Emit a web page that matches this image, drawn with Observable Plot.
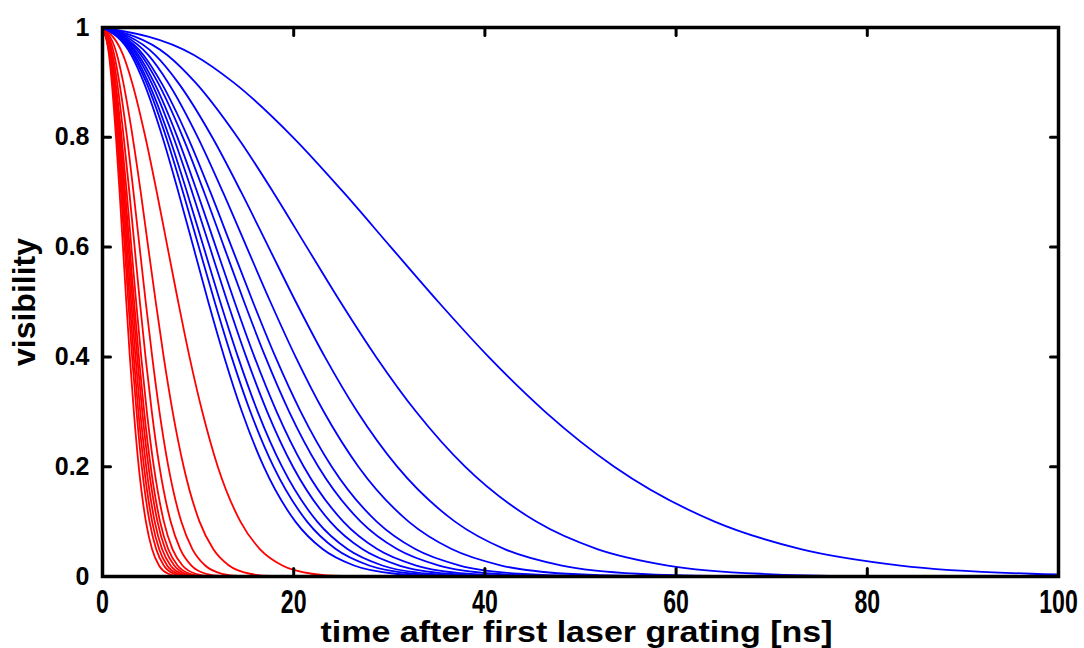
<!DOCTYPE html>
<html><head><meta charset="utf-8">
<script src="https://cdn.jsdelivr.net/npm/d3@7"></script>
<script src="https://cdn.jsdelivr.net/npm/@observablehq/plot@0.6"></script>
<style>body{margin:0;background:#fff} svg{display:block}</style>
</head><body><div id="chart"></div>
<script>
const levels = [1, 0.95, 0.9, 0.8, 0.7, 0.6, 0.5, 0.4, 0.3, 0.2, 0.1, 0.05, 0.02, 0.005, 0.001, 0];

// red curves: time [ns] at each visibility level
const redTimes = [
  [0, 0.68, 0.97, 1.41, 1.79, 2.14, 2.49, 2.86, 3.28, 3.79, 4.54, 5.18, 5.91, 6.88, 7.86, 120],
  [0, 0.73, 1.05, 1.53, 1.93, 2.32, 2.70, 3.10, 3.56, 4.11, 4.92, 5.61, 6.41, 7.46, 8.51, 120],
  [0, 0.77, 1.11, 1.62, 2.04, 2.44, 2.85, 3.27, 3.75, 4.34, 5.19, 5.92, 6.76, 7.87, 8.99, 120],
  [0, 0.82, 1.17, 1.70, 2.15, 2.57, 3.00, 3.45, 3.95, 4.57, 5.46, 6.23, 7.12, 8.29, 9.46, 120],
  [0, 0.86, 1.23, 1.79, 2.26, 2.71, 3.16, 3.63, 4.16, 4.81, 5.75, 6.56, 7.50, 8.72, 9.96, 120],
  [0, 0.90, 1.29, 1.88, 2.37, 2.84, 3.31, 3.80, 4.36, 5.04, 6.02, 6.87, 7.85, 9.14, 10.43, 120],
  [0, 0.96, 1.37, 2.00, 2.53, 3.02, 3.52, 4.05, 4.64, 5.37, 6.42, 7.32, 8.37, 9.74, 11.12, 120],
  [0, 1.06, 1.53, 2.22, 2.81, 3.36, 3.91, 4.50, 5.16, 5.96, 7.13, 8.13, 9.30, 10.82, 12.35, 120],
  [0, 1.23, 1.76, 2.57, 3.24, 3.88, 4.52, 5.20, 5.96, 6.89, 8.24, 9.40, 10.74, 12.50, 14.27, 120],
  [0, 1.52, 2.17, 3.16, 4.00, 4.78, 5.57, 6.40, 7.34, 8.49, 10.15, 11.58, 13.23, 15.40, 17.58, 120],
  [0, 2.15, 3.09, 4.49, 5.68, 6.80, 7.92, 9.10, 10.44, 12.06, 14.43, 16.46, 18.81, 21.89, 24.99, 120]
];

// blue curves: time [ns] at each visibility level
const blueTimes = [
  [0, 3.01, 4.32, 6.28, 7.94, 9.51, 11.07, 12.73, 14.59, 16.87, 20.18, 23.02, 26.31, 30.61, 34.95, 120],
  [0, 3.19, 4.58, 6.66, 8.42, 10.08, 11.74, 13.50, 15.47, 17.89, 21.40, 24.40, 27.89, 32.46, 37.05, 120],
  [0, 3.35, 4.80, 6.99, 8.84, 10.58, 12.32, 14.17, 16.24, 18.78, 22.46, 25.62, 29.27, 34.07, 38.89, 120],
  [0, 3.56, 5.10, 7.42, 9.38, 11.22, 13.07, 15.03, 17.23, 19.92, 23.82, 27.17, 31.05, 36.14, 41.26, 120],
  [0, 3.76, 5.39, 7.84, 9.91, 11.86, 13.82, 15.89, 18.22, 21.06, 25.19, 28.73, 32.83, 38.21, 43.62, 120],
  [0, 4.03, 5.78, 8.41, 10.63, 12.72, 14.82, 17.04, 19.53, 22.58, 27.01, 30.81, 35.21, 40.97, 46.78, 120],
  [0, 4.28, 6.13, 8.93, 11.29, 13.51, 15.74, 18.09, 20.74, 23.98, 28.68, 32.71, 37.38, 43.50, 49.67, 120],
  [0, 4.78, 6.85, 9.97, 12.60, 15.08, 17.57, 20.20, 23.15, 26.77, 32.02, 36.52, 41.73, 48.57, 55.45, 120],
  [0, 5.50, 7.89, 11.48, 14.51, 17.37, 20.23, 23.26, 26.66, 30.83, 36.87, 42.06, 48.06, 55.93, 63.86, 120],
  [0, 6.77, 9.71, 14.12, 17.86, 21.37, 24.89, 28.62, 32.81, 37.93, 45.37, 51.75, 59.14, 68.82, 78.58, 120],
  [0, 9.56, 13.70, 19.93, 25.20, 30.16, 35.14, 40.39, 46.31, 53.53, 64.03, 73.04, 83.47, 97.14, 110.9, 130]
];

const xTicks = [0, 20, 40, 60, 80, 100];
const yTicks = [0, 0.2, 0.4, 0.6, 0.8, 1];
const xLabel = "time after first laser grating [ns]";
const yLabel = "visibility";

const toRows = (times, prefix) => times.flatMap((ts, i) =>
  ts.map((t, j) => ({id: prefix + i, t, v: levels[j]})));
const redRows = toRows(redTimes, "r");
const blueRows = toRows(blueTimes, "b");

const tickShape = {draw(ctx, l) { ctx.moveTo(0, 0); ctx.lineTo(0, -l); }};
const tickOpts = {length: 8, anchor: "start", shape: tickShape, stroke: "black", strokeWidth: 3};
const sans = "'Liberation Sans', Arial, Helvetica, sans-serif";

const chart = Plot.plot({
  width: 1084,
  height: 648,
  marginLeft: 102,
  marginRight: 26,
  marginTop: 27,
  marginBottom: 72,
  style: {background: "#fff", fontFamily: sans},
  x: {domain: [0, 100], axis: null},
  y: {domain: [0, 1], axis: null},
  marks: [
    Plot.line(redRows, {x: "t", y: "v", z: "id", stroke: "#ff0000", strokeWidth: 1.8, curve: "monotone-x", clip: true}),
    Plot.line(blueRows, {x: "t", y: "v", z: "id", stroke: "#0000ff", strokeWidth: 1.8, curve: "monotone-x", clip: true}),
    Plot.frame({stroke: "black", strokeWidth: 3.5}),
    Plot.vector(xTicks, {x: d => d, frameAnchor: "bottom", rotate: 0, ...tickOpts}),
    Plot.vector(xTicks, {x: d => d, frameAnchor: "top", rotate: 180, ...tickOpts}),
    Plot.vector(yTicks, {y: d => d, frameAnchor: "left", rotate: 90, ...tickOpts}),
    Plot.vector(yTicks, {y: d => d, frameAnchor: "right", rotate: -90, ...tickOpts}),
    Plot.text(yTicks, {y: d => d, text: d => String(d), frameAnchor: "left", dx: -13, textAnchor: "end",
      lineAnchor: "middle", fontSize: 25, fontWeight: "bold", fontFamily: sans, fill: "black"}),
    Plot.text(xTicks, {x: d => d, text: d => String(d), frameAnchor: "bottom", dy: 26, textAnchor: "middle",
      lineAnchor: "middle", fontSize: 33, fontWeight: "bold", fontFamily: sans, fill: "black"}),
    Plot.text([xLabel], {frameAnchor: "bottom", dx: -4, dy: 56, textAnchor: "middle", lineAnchor: "middle",
      fontSize: 30, fontWeight: "bold", fontFamily: sans, fill: "black"}),
    Plot.text([yLabel], {frameAnchor: "left", dx: -78, rotate: -90, textAnchor: "middle", lineAnchor: "middle",
      fontSize: 32, fontWeight: "bold", fontFamily: sans, fill: "black"})
  ]
});
document.getElementById("chart").appendChild(chart);

// condense the x-axis texts horizontally, as in the reference
chart.querySelectorAll('g[font-size="33"] text').forEach(t => {
  const w = t.getComputedTextLength();
  t.setAttribute("textLength", (w * 0.7).toFixed(1));
  t.setAttribute("lengthAdjust", "spacingAndGlyphs");
});
chart.querySelectorAll('g[font-size="30"] text').forEach(t => {
  t.setAttribute("textLength", "512");
  t.setAttribute("lengthAdjust", "spacingAndGlyphs");
});
</script>
</body></html>
